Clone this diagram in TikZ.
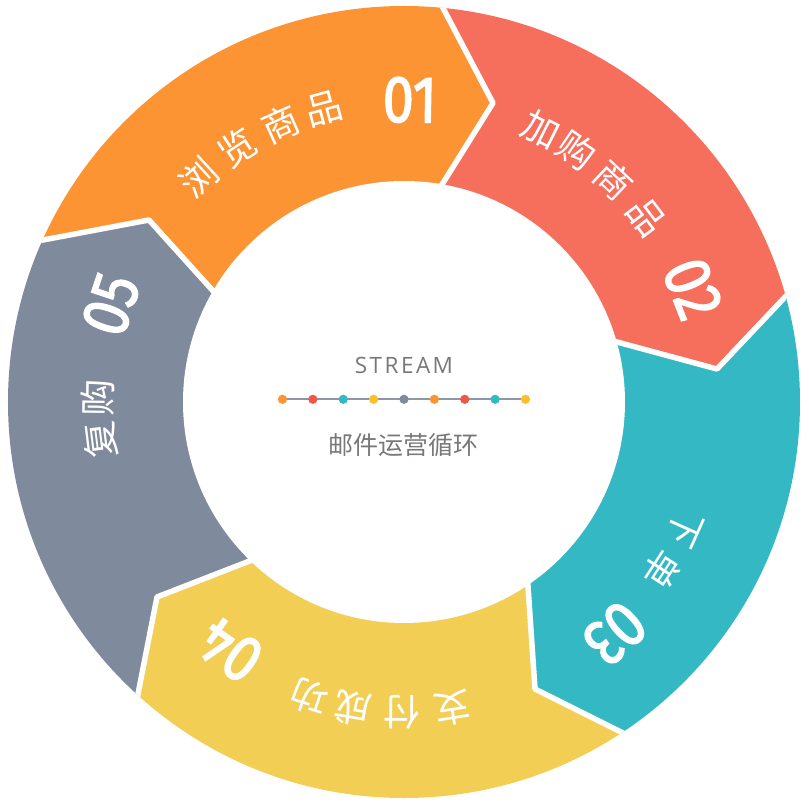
\documentclass[tikz,border=0pt]{standalone}
\usepackage{fontspec}
\usepackage{graphicx}
\setmainfont{Open Sans}
\newfontfamily\cjk{Noto Sans CJK SC}
\newfontfamily\numfont[FakeBold=2.2]{Fira Sans}
\usetikzlibrary{calc}
\definecolor{cOrange}{RGB}{253,148,51}
\definecolor{cRed}{RGB}{246,110,92}
\definecolor{cTeal}{RGB}{52,185,196}
\definecolor{cYellow}{RGB}{242,206,85}
\definecolor{cGrey}{RGB}{127,138,156}
\definecolor{txtGrey}{RGB}{120,120,120}
\definecolor{lineGrey}{RGB}{140,150,166}
\definecolor{dRed}{RGB}{238,88,72}
\definecolor{dYellow}{RGB}{251,190,44}
\begin{document}
\begin{tikzpicture}[x=1pt,y=1pt,
  lbl/.style={text=white, font=\cjk\fontsize{37}{37}\selectfont, inner sep=0pt},
  num/.style={text=white, font=\numfont\fontsize{66}{66}\selectfont, inner sep=0pt},
  gap/.style={draw=white, line width=5.5pt, line join=round},
  ctext/.style={text=txtGrey, inner sep=0pt}]
\useasboundingbox (-404,-406) rectangle (404,402);
\coordinate (C) at (0,0);
\coordinate (O1) at (-361,162); \coordinate (T1) at (-255,182); \coordinate (I1) at (-190,110);
\coordinate (O2) at (39,394);   \coordinate (T2) at (89,299);   \coordinate (I2) at (39,219);
\coordinate (O3) at (382,106);  \coordinate (T3) at (313,33);   \coordinate (I3) at (213,60);
\coordinate (O4) at (219,-331); \coordinate (T4) at (131,-287); \coordinate (I4) at (124,-184);
\coordinate (O5) at (-266,-292);\coordinate (T5) at (-247,-195);\coordinate (I5) at (-157,-160);
\foreach \k in {1,...,5}{
  \coordinate (OE\k) at ($(T\k)!1.5!(O\k)$);
  \coordinate (IE\k) at ($(T\k)!1.6!(I\k)$);
}
\begin{scope}
\clip (0,0) circle (396);
\fill[cOrange] (OE1) -- (T1) -- (IE1) -- (C) -- (IE2) -- (T2) -- (OE2) -- (84.3:700) -- (120:700) -- (155.8:700) -- cycle;
\fill[cRed] (OE2) -- (T2) -- (IE2) -- (C) -- (IE3) -- (T3) -- (OE3) -- (15.5:700) -- (50:700) -- (84.3:700) -- cycle;
\fill[cTeal] (OE3) -- (T3) -- (IE3) -- (C) -- (IE4) -- (T4) -- (OE4) -- (-56.5:700) -- (-20:700) -- (15.5:700) -- cycle;
\fill[cYellow] (OE4) -- (T4) -- (IE4) -- (C) -- (IE5) -- (T5) -- (OE5) -- (-132.3:700) -- (-94:700) -- (-56.5:700) -- cycle;
\fill[cGrey] (OE5) -- (T5) -- (IE5) -- (C) -- (IE1) -- (T1) -- (OE1) -- (155.8:700) -- (-168:700) -- (-132.3:700) -- cycle;
\foreach \k in {1,...,5}{ \draw[gap] (OE\k) -- (T\k) -- (IE\k); }
\fill[white] (C) circle (221);
\end{scope}
% labels
\foreach \a/\t/\n in {132.5/浏/a1,123.2/览/a2,114/商/a3,105.2/品/a4}
  \node[lbl, rotate=\a-90] (\n) at (\a:304) {\t};
\foreach \a/\t/\n in {63.3/加/b1,55.5/购/b2,46.6/商/b3,37.3/品/b4}
  \node[lbl, rotate=\a-90] (\n) at (\a:305) {\t};
\foreach \a/\t/\n in {-24.2/下/c1,-33/单/c2}
  \node[lbl, rotate=\a-90] (\n) at (\a:308) {\t};
\foreach \a/\t/\n in {-81/支/d1,-90.3/付/d2,-99.4/成/d3,-107.8/功/d4}
  \node[lbl, rotate=\a-90] (\n) at (\a:310) {\t};
\foreach \a/\t/\n in {187.1/复/e1,179.2/购/e2}
  \node[lbl, rotate=\a-90] (\n) at (\a:306) {\t};
% numbers
\node[num, rotate=-1.1] (n1) at (88.9:302) {\scalebox{0.85}[1]{01}};
\node[num, rotate=-68.6] (n2) at (21.4:310) {\scalebox{0.85}[1]{02}};
\node[num, rotate=-137.7] (n3) at (-47.7:313) {\scalebox{0.85}[1]{03}};
\node[num, rotate=-215] (n4) at (-125:303) {\scalebox{0.85}[1]{04}};
\node[num, rotate=71.6] (n5) at (161.6:309) {\scalebox{0.85}[1]{05}};
% centre
\node[ctext, font=\fontsize{22.5}{22.5}\selectfont\addfontfeatures{LetterSpace=11}] (stream) at (0,37) {STREAM};
\draw[lineGrey, line width=1.6pt] (-121.5,2.7) -- (121.5,2.7);
\foreach \i/\c in {0/cOrange,1/dRed,2/cTeal,3/dYellow,4/cGrey,5/cOrange,6/dRed,7/cTeal,8/dYellow}
  \fill[\c] (-121.5+30.375*\i,2.7) circle (4.6);
\node[ctext, font=\cjk\fontsize{25}{25}\selectfont] (sub) at (0,-43) {邮件运营循环};
\end{tikzpicture}
\end{document}
